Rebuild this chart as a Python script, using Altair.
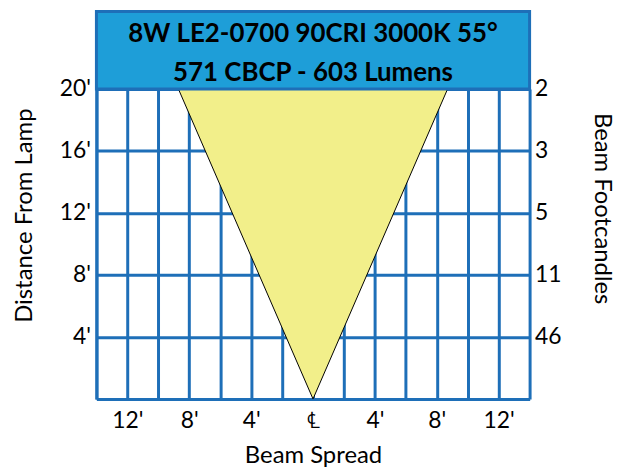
import altair as alt
import pandas as pd

# ---- data ----
title_lines = ["8W LE2-0700 90CRI 3000K 55°", "571 CBCP - 603 Lumens"]
beam_distance = [0, 20]          # feet from lamp
beam_half_width = [0, 8.7]       # half beam spread (feet) at each distance
distance_ticks = [4, 8, 12, 16, 20]
footcandles = ["46", "11", "5", "3", "2"]
spread_grid = list(range(-14, 15, 2))
spread_labels = [-12, -8, -4, 0, 4, 8, 12]
x_extent = [-14, 14]
y_extent = [0, 20]

FONT = "Lato"
GRID = "#1E6FB8"
BOX_FILL = "#1E9ED8"

tri = pd.DataFrame({
    "dist": beam_distance,
    "left": [-w for w in beam_half_width],
    "right": beam_half_width,
})
box = pd.DataFrame({"left": [x_extent[0]], "right": [x_extent[1]]})
fc = pd.DataFrame({"dist": distance_ticks, "fc": footcandles})

xscale = alt.Scale(domain=x_extent, nice=False, zero=False)
yscale = alt.Scale(domain=y_extent, nice=False, zero=False)

lbl_set = ",".join(str(v) for v in spread_labels)
x_label_expr = (
    "datum.value == 0 ? '\u2104' : (indexof([" + lbl_set + "], datum.value) >= 0 ? "
    "abs(datum.value) + \"'\" : '')"
)
fc_map = "{" + ",".join(f"'{d}':'{f}'" for d, f in zip(distance_ticks, footcandles)) + "}"
right_label_expr = fc_map + "[toString(datum.value)]"

x_axis = alt.Axis(values=spread_grid, title="Beam Spread",
                  labelExpr=x_label_expr, grid=True, ticks=False,
                  labelOverlap=False, labelFlush=False,
                  labelPadding=11, labelBaseline="top",
                  titleY=64, titleBaseline="alphabetic")

triangle = alt.Chart(tri).mark_area(
    orient="horizontal", color="#F2EF8A", stroke="black", strokeWidth=1
).encode(
    y=alt.Y("dist:Q", scale=yscale,
            axis=alt.Axis(values=[0] + distance_ticks, title="Distance From Lamp",
                          labelExpr="datum.value == 0 ? '' : datum.value + \"'\"",
                          grid=True, ticks=False, labelPadding=6, labelOverlap=False,
                          titleAngle=-90, titleX=-72, titleY=127,
                          titleBaseline="middle", titleAlign="center")),
    x=alt.X("left:Q", scale=xscale, axis=x_axis),
    x2="right:Q",
)

title_box = alt.Chart(box).mark_rect(
    fill=BOX_FILL, stroke=GRID, strokeWidth=3
).encode(
    x=alt.X("left:Q", scale=xscale, axis=x_axis),
    x2="right:Q",
    y=alt.value(-78),
    y2=alt.value(0),
)

def head(line, ypix):
    return alt.Chart(pd.DataFrame({"t": [line]})).mark_text(
        font=FONT, fontSize=26, fontWeight="bold", color="black", baseline="middle"
    ).encode(text="t:N", x=alt.value(218), y=alt.value(ypix))

right_axis = alt.Chart(fc).mark_point(opacity=0).encode(
    y=alt.Y("dist:Q", scale=yscale,
            axis=alt.Axis(orient="right", values=distance_ticks,
                          labelExpr=right_label_expr, title="Beam Footcandles",
                          grid=False, ticks=False, labelPadding=5, domain=False,
                          titleAngle=90, titleX=72, titleY=120,
                          titleBaseline="middle", titleAlign="center")),
)

chart = alt.layer(
    triangle, title_box, right_axis, head(title_lines[0], -55), head(title_lines[1], -16)
).resolve_scale(
    y="independent"
).properties(
    width=436, height=312,
    autosize=alt.AutoSizeParams(type="none"),
    padding={"left": 89, "top": 80, "right": 92, "bottom": 70},
).configure_view(strokeWidth=0).configure_axis(
    gridColor=GRID, gridWidth=3, gridOpacity=1,
    domainColor=GRID, domainWidth=3,
    labelFont=FONT, labelFontSize=23, labelColor="black",
    titleFont=FONT, titleFontSize=24, titleFontWeight="normal", titleColor="black",
)

chart.save("out.html", embed_options={"renderer": "svg", "actions": False})
